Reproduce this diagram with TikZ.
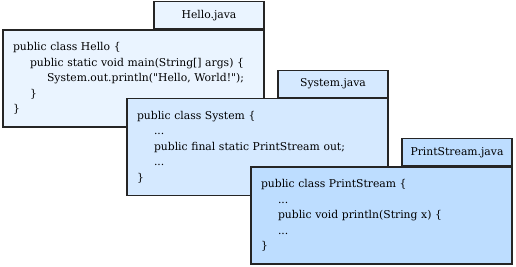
\documentclass[tikz,border=0pt]{standalone}
\usepackage{fontspec}
\setmainfont{DejaVu Serif}
\usetikzlibrary{positioning}
\definecolor{helloFill}{HTML}{EAF4FF}
\definecolor{systemFill}{HTML}{D5E9FF}
\definecolor{streamFill}{HTML}{BDDDFF}
\definecolor{frameLine}{HTML}{252525}
\newcommand{\ind}{\hspace*{17pt}}
\begin{document}
\begin{tikzpicture}[x=1pt, y=-1pt,
    every node/.style={font=\fontsize{10.8}{15.5}\selectfont},
    filebox/.style={draw=frameLine, line width=1.3pt, rectangle,
      minimum width=261pt, minimum height=97pt, text width=241pt,
      inner xsep=10pt, align=left},
    filetab/.style={draw=frameLine, line width=1.3pt, rectangle,
      minimum width=110pt, minimum height=27pt, inner sep=0pt}]
    \useasboundingbox (0,0) rectangle (516,267);
    % Hello.java
    \node[filebox, fill=helloFill] (hello) at (133.5,78.5)
      {public class Hello \{\\
       \ind public static void main(String[] args) \{\\
       \ind\ind System.out.println(\textquotedbl Hello, World!\textquotedbl);\\
       \ind \}\\
       \}};
    \node[filetab, fill=helloFill, above left=0pt of hello.north east] (hellotab) {Hello.java};
    % System.java
    \node[filebox, fill=systemFill] (system) at (257.5,147)
      {public class System \{\\
       \ind ...\\
       \ind public final static PrintStream out;\\
       \ind ...\\
       \}};
    \node[filetab, fill=systemFill, above left=0pt of system.north east] (systemtab) {System.java};
    % PrintStream.java
    \node[filebox, fill=streamFill] (stream) at (381.5,215.5)
      {public class PrintStream \{\\
       \ind ...\\
       \ind public void println(String x) \{\\
       \ind ...\\
       \}};
    \node[filetab, fill=streamFill, above left=0pt of stream.north east] (streamtab) {PrintStream.java};
\end{tikzpicture}
\end{document}
